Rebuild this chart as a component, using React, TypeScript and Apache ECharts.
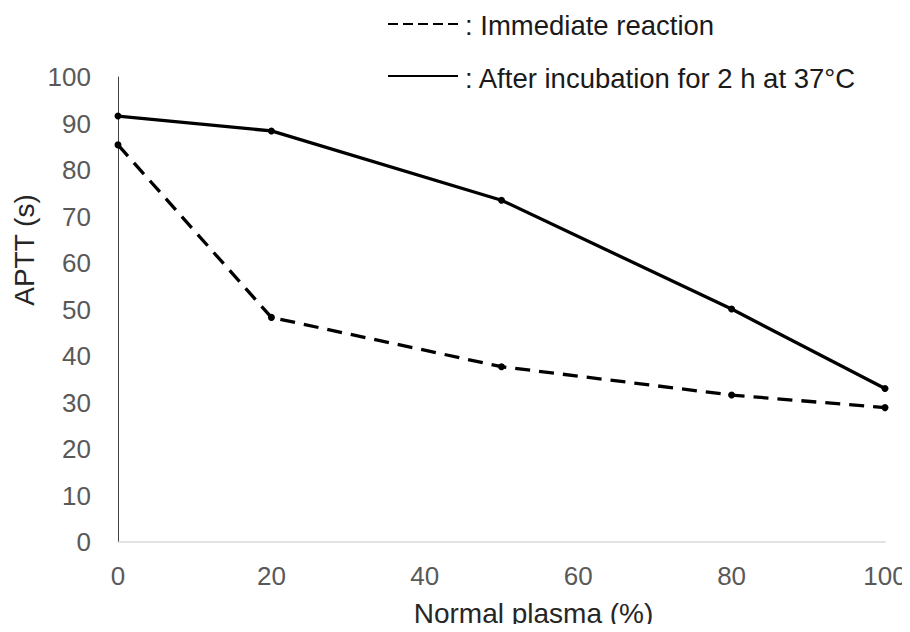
import React, { useEffect, useRef } from "react";
import * as echarts from "echarts";

const xValues = [0, 20, 50, 80, 100];
const immediate = [85.4, 48.3, 37.7, 31.6, 28.9];
const incubated = [91.6, 88.4, 73.5, 50.1, 33.0];
const legendLabels = [": Immediate reaction", ": After incubation for 2 h at 37°C"];

const FONT = "'Liberation Sans', Arial, sans-serif";
const GRAY = "#595959";
const DARK = "#262626";

export default function App() {
  const ref = useRef<HTMLDivElement>(null);
  useEffect(() => {
    if (!ref.current) return;
    const chart = echarts.init(ref.current, undefined, { renderer: "svg" });
    const toPairs = (ys: number[]) => xValues.map((x, i) => [x, ys[i]]);
    chart.setOption({
      animation: false,
      backgroundColor: "#ffffff",
      grid: { left: 118, right: 25, top: 77, bottom: 88 },
      xAxis: {
        type: "value",
        min: 0,
        max: 100,
        interval: 20,
        name: "Normal plasma (%)",
        nameLocation: "middle",
        nameGap: 57,
        nameTextStyle: { fontFamily: FONT, fontSize: 28, color: DARK, padding: [0, 0, 0, 64] },
        axisLine: { show: true, lineStyle: { color: "#d9d9d9", width: 1.5 } },
        axisTick: { show: false },
        splitLine: { show: false },
        axisLabel: { fontFamily: FONT, fontSize: 26, color: GRAY, margin: 21 },
      },
      yAxis: {
        type: "value",
        min: 0,
        max: 100,
        interval: 10,
        axisLine: { show: true, lineStyle: { color: "#404040", width: 1 } },
        axisTick: { show: false },
        splitLine: { show: false },
        axisLabel: { fontFamily: FONT, fontSize: 26, color: GRAY, margin: 27 },
      },
      graphic: [
        {
          type: "text",
          x: 24,
          y: 250,
          rotation: Math.PI / 2,
          style: {
            text: "APTT (s)",
            font: `28px ${FONT}`,
            fill: DARK,
            align: "center",
            verticalAlign: "middle",
          },
        },
        {
          type: "line",
          shape: { x1: 388, y1: 24, x2: 458, y2: 24 },
          style: { stroke: "#000", lineWidth: 2, lineDash: [10, 5] },
        },
        {
          type: "text",
          x: 465,
          y: 25,
          style: {
            text: legendLabels[0],
            font: `27.5px ${FONT}`,
            fill: "#1a1a1a",
            verticalAlign: "middle",
          },
        },
        {
          type: "line",
          shape: { x1: 388, y1: 76, x2: 458, y2: 76 },
          style: { stroke: "#000", lineWidth: 2 },
        },
        {
          type: "text",
          x: 465,
          y: 78,
          style: {
            text: legendLabels[1],
            font: `27.5px ${FONT}`,
            fill: "#1a1a1a",
            verticalAlign: "middle",
          },
        },
      ],
      series: [
        {
          name: "Immediate reaction",
          type: "line",
          data: toPairs(immediate),
          symbol: "circle",
          symbolSize: 7,
          itemStyle: { color: "#000" },
          lineStyle: { color: "#000", width: 3.3, type: [15, 9] },
        },
        {
          name: "After incubation for 2 h at 37°C",
          type: "line",
          data: toPairs(incubated),
          symbol: "circle",
          symbolSize: 7,
          itemStyle: { color: "#000" },
          lineStyle: { color: "#000", width: 3.3 },
        },
      ],
    });
    return () => chart.dispose();
  }, []);
  return <div ref={ref} style={{ width: 910, height: 632, margin: -8 }} />;
}
